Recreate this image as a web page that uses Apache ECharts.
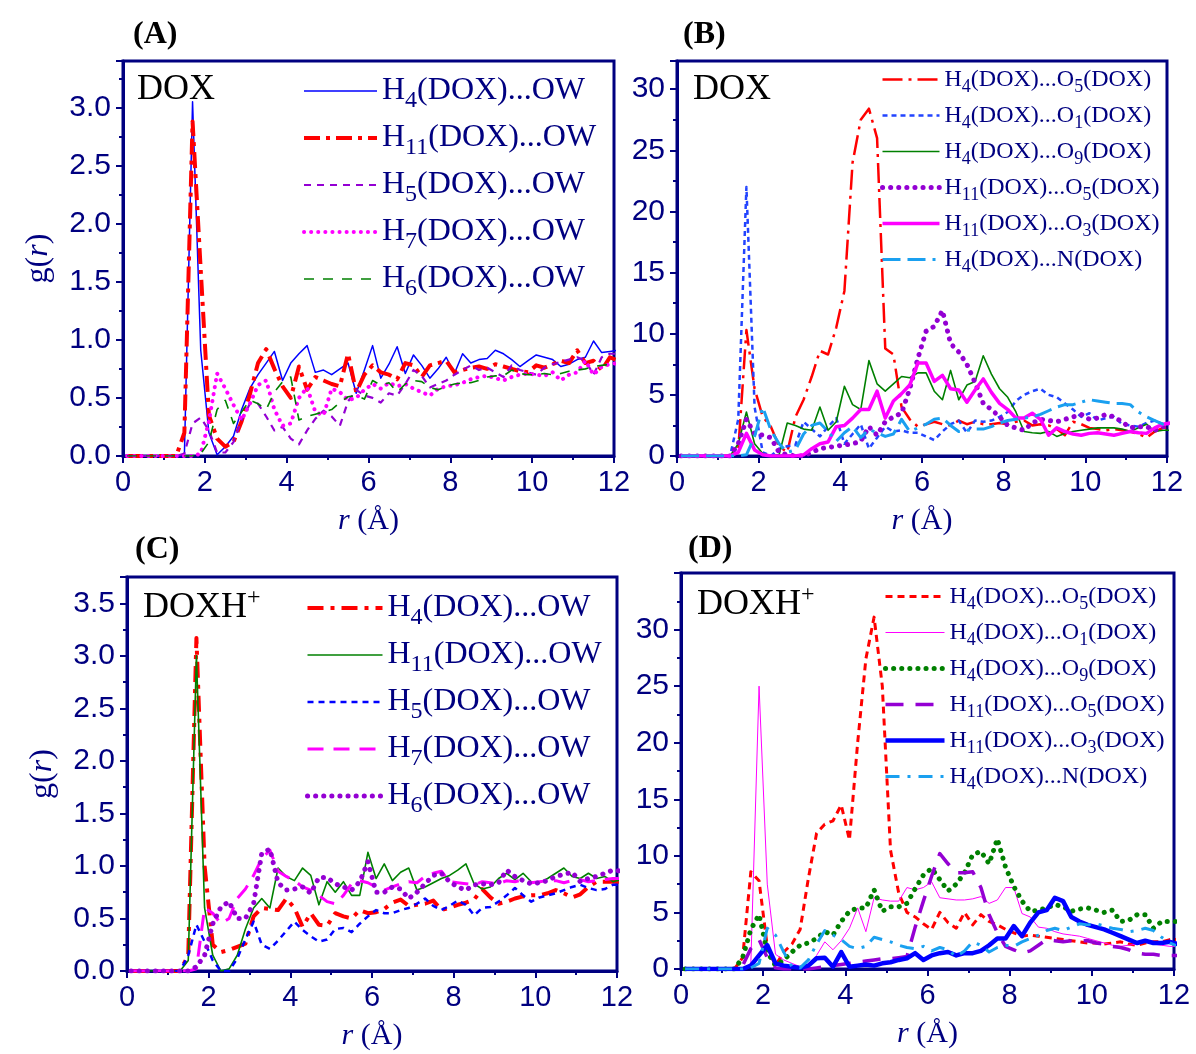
<!DOCTYPE html>
<html><head><meta charset="utf-8">
<script src="https://cdn.jsdelivr.net/npm/echarts@6/dist/echarts.min.js"></script>
<style>html,body{margin:0;padding:0;background:#fff}#c{width:1196px;height:1054px}</style>
</head><body><div id="c"></div><script>
// r grid (Å)
const r = [0.1,0.3,0.5,0.7,0.9,1.1,1.3,1.5,1.7,1.9,
 2.1,2.3,2.5,2.7,2.9,3.1,3.3,3.5,3.7,3.9,
 4.1,4.3,4.5,4.7,4.9,5.1,5.3,5.5,5.7,5.9,
 6.1,6.3,6.5,6.7,6.9,7.1,7.3,7.5,7.7,7.9,
 8.1,8.3,8.5,8.7,8.9,9.1,9.3,9.5,9.7,9.9,
 10.1,10.3,10.5,10.7,10.9,11.1,11.3,11.5,11.7,11.9,
 12.1];
const xTicks = [0,2,4,6,8,10,12];

// Panel A (DOX)
const A_H4 = [0,0,0,0,0,0,0,0,3.05,0.91,
 0.20,0.01,0.08,0.17,0.40,0.58,0.70,0.80,0.90,0.65,
 0.80,0.88,0.95,0.72,0.74,0.70,0.75,0.80,0.54,0.74,
 0.95,0.67,0.79,0.94,0.71,0.87,0.78,0.67,0.75,0.85,
 0.71,0.88,0.80,0.83,0.84,0.91,0.88,0.83,0.77,0.82,
 0.87,0.85,0.83,0.77,0.79,0.83,0.85,0.99,0.89,0.90,
 0.91];
const A_H11 = [0,0,0,0,0,0,0,0.2,2.88,1.6,
 0.35,0.15,0.08,0.12,0.30,0.53,0.80,0.92,0.75,0.60,
 0.50,0.77,0.57,0.68,0.65,0.62,0.60,0.88,0.55,0.70,
 0.78,0.72,0.70,0.66,0.80,0.78,0.68,0.78,0.80,0.82,
 0.72,0.74,0.76,0.77,0.75,0.79,0.77,0.75,0.73,0.72,
 0.78,0.76,0.79,0.82,0.80,0.91,0.80,0.82,0.74,0.85,
 0.82];
const A_H5 = [0,0,0,0,0,0,0,0.02,0.28,0.33,
 0.22,0.03,0.03,0.12,0.31,0.45,0.45,0.34,0.22,0.25,
 0.15,0.10,0.22,0.32,0.39,0.34,0.26,0.47,0.57,0.52,
 0.50,0.46,0.54,0.52,0.62,0.74,0.69,0.59,0.62,0.65,
 0.70,0.74,0.78,0.74,0.76,0.72,0.68,0.78,0.74,0.72,
 0.70,0.76,0.79,0.81,0.83,0.85,0.82,0.70,0.85,0.88,
 0.88];
const A_H7 = [0,0,0,0,0,0,0,0,0,0.02,
 0.30,0.71,0.58,0.44,0.31,0.45,0.61,0.65,0.40,0.26,
 0.28,0.50,0.59,0.38,0.35,0.58,0.55,0.48,0.50,0.57,
 0.62,0.58,0.63,0.60,0.62,0.58,0.55,0.52,0.58,0.60,
 0.61,0.63,0.66,0.68,0.69,0.67,0.65,0.68,0.70,0.71,
 0.70,0.69,0.72,0.65,0.70,0.72,0.82,0.70,0.77,0.79,
 0.80];
const A_H6 = [0,0,0,0,0,0,0,0,0,0.02,
 0.12,0.40,0.48,0.28,0.38,0.48,0.45,0.40,0.55,0.64,
 0.68,0.31,0.34,0.36,0.38,0.40,0.46,0.51,0.52,0.49,
 0.65,0.61,0.63,0.55,0.62,0.65,0.64,0.59,0.57,0.60,
 0.62,0.63,0.63,0.65,0.68,0.69,0.69,0.74,0.71,0.70,
 0.70,0.71,0.70,0.71,0.73,0.74,0.75,0.77,0.78,0.79,
 0.80];

// Panel B (DOX, intramolecular)
const B_H4O5 = [0,0,0,0,0,0,0,0.5,10.3,5.5,
 3.2,2.4,0.8,0.3,3.2,4.6,6.5,8.6,8.3,10.5,
 13.5,24.0,27.5,28.4,26.0,8.8,8.3,4.0,3.0,2.4,
 2.6,2.8,2.6,2.5,2.9,2.6,2.8,2.6,2.6,2.7,
 2.6,2.8,2.9,2.5,2.6,2.5,2.2,1.7,2.8,2.6,
 2.3,2.2,2.1,2.2,2.1,2.0,1.8,1.5,2.0,2.3,
 2.4];
const B_H4O1 = [0,0,0,0,0,0,0,3.0,22.0,4.0,
 0.3,0,0.6,0.8,0.9,2.8,2.2,1.6,2.4,3.1,
 1.0,1.8,2.6,0.6,1.5,2.4,2.0,2.1,1.9,1.9,
 1.6,1.3,2.0,2.6,2.9,1.9,2.9,2.8,2.9,3.2,
 3.6,4.5,5.0,5.3,5.5,5.0,4.8,4.3,3.8,3.2,
 3.5,2.9,3.1,3.2,2.6,2.5,2.4,2.7,2.9,2.6,
 2.6];
const B_H4O9 = [0,0,0,0,0,0,0,1.0,3.6,1.0,
 0.2,0,0.1,2.7,2.5,2.2,2.1,4.0,2.1,2.8,
 5.7,4.2,3.8,7.8,5.9,5.3,5.9,6.5,6.4,6.8,
 6.8,5.3,4.6,7.0,4.6,5.8,6.1,8.2,6.7,5.5,
 4.8,3.6,2.0,1.9,1.85,2.0,1.6,1.85,2.0,2.1,
 2.2,2.3,2.3,2.3,2.2,2.0,2.3,2.6,2.0,2.1,
 2.1];
const B_H11O5 = [0,0,0,0,0,0,0,1.0,3.0,1.8,
 1.7,1.5,0.3,0.1,0,0,0.3,0.6,0.7,0.8,
 0.9,1.0,1.2,2.4,1.7,2.8,3.2,3.5,5.5,8.0,
 10.2,10.6,11.9,9.2,8.5,7.5,6.0,4.3,3.8,3.2,
 2.5,2.3,2.1,2.7,3.0,2.9,2.8,3.0,3.2,3.4,
 3.0,3.1,3.4,3.2,2.8,2.3,2.4,2.4,2.1,2.4,
 2.5];
const B_H11O3 = [0,0,0,0,0,0,0,0.3,1.85,0.5,
 0.1,0,0,0,0,0.1,0.6,1.0,1.15,2.4,
 2.5,3.1,3.8,3.8,5.3,3.1,4.5,5.1,5.8,7.6,
 7.6,6.1,6.6,5.5,5.4,4.4,5.4,6.3,5.2,4.3,
 3.8,3.1,3.1,3.5,3.0,1.7,2.3,2.0,1.8,1.7,
 1.85,1.9,1.8,1.7,1.85,2.0,1.9,1.85,2.3,2.6,
 2.7];
const B_H4N = [0,0,0,0,0,0,0,0,0.1,1.6,
 4.0,2.1,1.0,0.3,0.5,1.8,2.5,2.7,2.0,1.2,
 1.9,2.4,1.5,2.2,1.9,1.6,1.8,3.0,2.0,2.3,
 2.6,3.0,3.1,2.5,2.0,2.1,2.2,2.2,2.4,2.7,
 2.9,3.0,3.1,3.2,3.4,3.7,4.0,4.2,4.2,4.4,
 4.6,4.5,4.4,4.3,4.3,4.2,3.6,3.2,2.9,2.6,
 2.4];

// Panel C (DOXH+)
const C_H4 = [0,0,0,0,0,0,0,0.15,3.17,1.0,
 0.25,0.18,0.2,0.23,0.26,0.52,0.6,0.59,0.58,0.69,
 0.60,0.42,0.55,0.44,0.43,0.55,0.52,0.50,0.58,0.55,
 0.56,0.59,0.65,0.68,0.62,0.63,0.64,0.67,0.58,0.60,
 0.63,0.65,0.68,0.78,0.70,0.64,0.66,0.69,0.71,0.72,
 0.72,0.74,0.77,0.74,0.70,0.73,0.80,0.85,0.85,0.85,
 0.85];
const C_H11 = [0,0,0,0,0,0,0,0.1,3.0,0.6,
 0.15,0,0.02,0.15,0.4,0.6,0.69,0.6,0.98,0.9,
 0.86,0.98,0.91,0.63,0.85,0.75,0.85,0.72,0.72,1.13,
 0.88,1.02,0.86,0.94,0.98,0.77,0.80,0.84,0.88,0.91,
 0.96,1.02,0.83,0.78,0.80,0.88,0.93,0.87,0.93,0.85,
 0.84,0.88,0.93,0.98,0.90,0.88,0.93,0.88,0.90,0.85,
 0.87];
const C_H5 = [0,0,0,0,0,0,0,0.15,0.44,0.28,
 0.1,0,0,0.12,0.3,0.47,0.25,0.21,0.29,0.38,
 0.47,0.39,0.33,0.28,0.30,0.40,0.41,0.37,0.45,0.52,
 0.58,0.55,0.55,0.58,0.60,0.64,0.69,0.62,0.58,0.62,
 0.67,0.63,0.53,0.60,0.61,0.66,0.72,0.79,0.72,0.66,
 0.70,0.72,0.74,0.77,0.80,0.82,0.79,0.77,0.78,0.82,
 0.82];
const C_H7 = [0,0,0,0,0,0,0,0,0.02,0.6,
 0.55,0.45,0.50,0.69,0.78,0.91,1.07,1.15,0.95,0.90,
 0.86,0.80,0.77,0.72,0.66,0.64,0.72,0.83,0.86,0.84,
 0.80,0.77,0.80,0.83,0.85,0.84,0.90,0.93,0.95,0.85,
 0.84,0.83,0.82,0.85,0.84,0.83,0.86,0.85,0.87,0.84,
 0.85,0.86,0.86,0.84,0.86,0.87,0.85,0.86,0.87,0.88,
 0.88];
const C_H6 = [0,0,0,0,0,0,0,0,0.04,0.15,
 0.45,0.61,0.66,0.5,0.5,0.64,1.12,1.16,0.84,0.77,
 0.78,0.80,0.74,0.89,0.89,0.83,0.80,0.77,0.85,1.04,
 0.75,0.75,0.80,0.78,0.69,0.75,0.83,0.91,0.93,0.85,
 0.80,0.77,0.82,0.83,0.82,0.84,0.96,0.90,0.86,0.83,
 0.84,0.86,0.90,0.92,0.94,0.85,0.88,0.90,0.93,0.96,
 0.95];

// Panel D (DOXH+, intramolecular)
const D_H4O5 = [0,0,0,0,0,0,0,1.0,8.6,7.8,
 2.0,0.3,1.5,2.2,3.5,8.0,12.0,12.8,13.1,14.5,
 11.4,20.0,27.4,31.1,25.0,10.5,6.7,5.0,4.6,4.0,
 3.5,5.0,4.1,3.6,5.0,3.9,4.8,4.2,3.9,3.5,
 3.2,2.9,3.0,2.9,2.8,2.7,2.6,2.5,2.4,2.3,
 2.3,2.2,2.3,2.4,2.2,2.1,2.3,2.4,2.4,2.6,
 2.6];
const D_H4O1 = [0,0,0,0,0,0,0,0,0.5,25.0,
 7.5,1.3,0.8,0.5,0.2,0.2,1.2,2.4,1.7,2.5,
 3.6,5.4,3.3,6.3,6.1,6.0,6.0,7.2,7.0,7.2,
 7.7,6.3,6.2,6.1,6.1,6.2,6.4,5.8,6.1,7.2,
 7.2,4.9,4.6,3.7,3.6,3.3,3.1,3.0,2.9,2.7,
 2.5,2.3,2.1,2.0,2.1,2.2,2.6,2.2,2.1,2.0,
 2.0];
const D_H4O9 = [0,0,0,0,0,0,0,1.0,3.5,4.8,
 1.5,0.3,0.8,1.5,2.1,2.3,2.7,3.3,3.0,4.2,
 5.1,5.4,5.4,7.0,5.1,5.5,5.5,5.8,7.1,8.3,
 8.9,7.9,6.9,7.5,8.5,10.1,10.4,9.3,11.5,9.0,
 7.3,6.0,5.1,5.2,5.4,5.7,5.5,5.1,5.3,5.4,
 5.2,5.0,5.2,4.2,4.3,4.8,4.8,3.6,4.2,4.2,
 4.2];
const D_H11O5 = [0,0,0,0,0,0,0,0.3,1.8,2.6,
 1.0,0.1,0,0,0,0,0.1,0.2,0.3,0.4,
 0.5,0.6,0.7,0.8,0.9,0.9,1.0,1.1,3.7,6.0,
 8.2,10.2,9.3,8.5,8.5,8.6,7.2,4.8,3.2,2.0,
 1.7,1.4,1.6,2.1,2.6,2.5,2.4,2.5,2.5,2.5,
 2.3,2.2,2.0,1.9,1.7,1.4,1.3,1.3,1.2,1.2,
 1.2];
const D_H11O3 = [0,0,0,0,0,0,0,0,0.3,1.2,
 2.1,0.5,0.3,0.2,0.1,0.3,0.95,1.0,0.2,1.5,
 0.2,0.3,0.4,0.3,0.5,0.6,0.8,0.95,1.4,0.8,
 1.2,1.4,1.5,1.2,1.4,1.4,1.6,2.1,2.7,2.7,
 3.8,2.9,4.1,5.0,5.2,6.3,6.0,4.6,4.2,3.9,
 3.7,3.5,3.2,2.9,2.6,2.3,2.5,2.3,2.3,2.4,
 2.2];
const D_H4N = [0,0,0,0,0,0,0,0,0.1,0.5,
 3.6,3.0,1.5,0.2,0.1,0.8,2.2,3.4,3.0,2.6,
 2.0,1.8,2.0,2.8,2.6,2.4,2.1,1.9,1.8,2.0,
 1.6,1.9,1.7,1.1,1.6,2.4,2.1,1.5,1.9,2.1,
 2.0,2.4,2.7,3.0,3.4,3.6,3.4,3.7,4.0,3.9,
 4.0,3.8,3.6,3.5,3.3,3.4,3.6,3.4,2.8,2.3,
 2.0];

const NAVY = '#000080';
const SERIF = 'Liberation Serif';
const SANS = 'Liberation Sans';

const panels = [
  { id:'A', grid:{left:123, top:61, width:491, height:395}, ymax:3.4, yint:0.5, dec:1, yname:true,
    legend:{left:302, top:69, iw:73, fs:32, sub:24, pad:20, lh:40, gap:3},
    series:[
      ['H4(DOX)...OW', A_H4, {color:'#0000ff', width:1.5, type:'solid'}],
      ['H11(DOX)...OW', A_H11, {color:'#ff0000', width:4, type:[16,6,4,6]}],
      ['H5(DOX)...OW', A_H5, {color:'#9400d3', width:2.2, type:[7,6]}],
      ['H7(DOX)...OW', A_H7, {color:'#ff00ff', width:4, type:[0.1,7], cap:'round'}],
      ['H6(DOX)...OW', A_H6, {color:'#008000', width:1.6, type:[10,9]}]
    ]},
  { id:'B', grid:{left:677, top:61, width:490, height:395}, ymax:32.3, yint:5, dec:0, yname:false,
    legend:{left:880, top:63, iw:57, fs:24, sub:18, pad:15, lh:30, gap:3},
    series:[
      ['H4(DOX)...O5(DOX)', B_H4O5, {color:'#ff0000', width:2.5, type:[20,6,3,6]}],
      ['H4(DOX)...O1(DOX)', B_H4O1, {color:'#2244ff', width:2.5, type:[5,4]}],
      ['H4(DOX)...O9(DOX)', B_H4O9, {color:'#008000', width:1.6, type:'solid'}],
      ['H11(DOX)...O5(DOX)', B_H11O5, {color:'#9400d3', width:5, type:[0.1,8], cap:'round'}],
      ['H11(DOX)...O3(DOX)', B_H11O3, {color:'#ff00ff', width:3.5, type:'solid'}],
      ['H4(DOX)...N(DOX)', B_H4N, {color:'#1aa0f0', width:3, type:[18,7,18,7,3,7]}]
    ]},
  { id:'C', grid:{left:127, top:577, width:490, height:394}, ymax:3.75, yint:0.5, dec:1, yname:true,
    legend:{left:305, top:586, iw:75, fs:32, sub:24, pad:20, lh:40, gap:3},
    series:[
      ['H4(DOX)...OW', C_H4, {color:'#ff0000', width:4, type:[16,7,4,7]}],
      ['H11(DOX)...OW', C_H11, {color:'#008000', width:1.6, type:'solid'}],
      ['H5(DOX)...OW', C_H5, {color:'#0000ff', width:2.5, type:[6,5]}],
      ['H7(DOX)...OW', C_H7, {color:'#ff00ff', width:3, type:[16,10]}],
      ['H6(DOX)...OW', C_H6, {color:'#9400d3', width:5, type:[0.1,8], cap:'round'}]
    ]},
  { id:'D', grid:{left:681, top:573, width:493, height:396}, ymax:35, yint:5, dec:0, yname:false,
    legend:{left:883, top:580, iw:59, fs:24, sub:18, pad:15, lh:30, gap:3},
    series:[
      ['H4(DOX)...O5(DOX)', D_H4O5, {color:'#ff0000', width:3, type:[7,5]}],
      ['H4(DOX)...O1(DOX)', D_H4O1, {color:'#ff00ff', width:1, type:'solid'}],
      ['H4(DOX)...O9(DOX)', D_H4O9, {color:'#008000', width:5, type:[0.1,8], cap:'round'}],
      ['H11(DOX)...O5(DOX)', D_H11O5, {color:'#9400d3', width:3.5, type:[18,12]}],
      ['H11(DOX)...O3(DOX)', D_H11O3, {color:'#0000ff', width:4.5, type:'solid'}],
      ['H4(DOX)...N(DOX)', D_H4N, {color:'#1aa0f0', width:3, type:[14,8,3,8]}]
    ]}
];

const grids = [], xAxes = [], yAxes = [], series = [], legends = [];
const tickStyle = {color:NAVY, width:2};
panels.forEach((p, gi) => {
  grids.push(Object.assign({show:true, borderColor:NAVY, borderWidth:3, backgroundColor:'transparent'}, p.grid));
  xAxes.push({gridIndex:gi, type:'value', min:xTicks[0], max:xTicks[xTicks.length-1], interval:xTicks[1]-xTicks[0],
    axisLine:{show:true, lineStyle:{color:NAVY, width:3}},
    axisTick:{show:true, length:7, lineStyle:tickStyle},
    minorTick:{show:true, splitNumber:2, length:4, lineStyle:tickStyle},
    splitLine:{show:false},
    axisLabel:{color:NAVY, fontFamily:SANS, fontSize:29, margin:12},
    name:'{i|r} (Å)', nameLocation:'middle', nameGap:50,
    nameTextStyle:{color:NAVY, fontFamily:SERIF, fontSize:30,
      rich:{i:{fontStyle:'italic', fontFamily:SERIF, fontSize:30, color:NAVY}}}
  });
  const y = {gridIndex:gi, type:'value', min:0, max:p.ymax, interval:p.yint,
    axisLine:{show:true, lineStyle:{color:NAVY, width:3}},
    axisTick:{show:true, length:7, lineStyle:tickStyle},
    minorTick:{show:true, splitNumber:2, length:4, lineStyle:tickStyle},
    splitLine:{show:false},
    axisLabel:{color:NAVY, fontFamily:SANS, fontSize:30, margin:12, showMaxLabel:false,
      formatter: v => v.toFixed(p.dec)}
  };
  if (p.yname) {
    Object.assign(y, {name:'g({i|r})', nameLocation:'middle', nameGap:68,
      nameTextStyle:{color:NAVY, fontFamily:SERIF, fontSize:32,
        rich:{i:{fontStyle:'italic', fontFamily:SERIF, fontSize:32, color:NAVY}}}});
  }
  yAxes.push(y);
  const names = [];
  p.series.forEach(([nm, vals, ls]) => {
    const full = p.id + ':' + nm;
    names.push(full);
    series.push({type:'line', name:full, xAxisIndex:gi, yAxisIndex:gi, symbol:'none',
      data: r.map((x, i) => [x, vals[i]]), clip:true, animation:false,
      lineStyle:Object.assign({join:'round'}, ls), itemStyle:{color:ls.color}});
  });
  const L = p.legend;
  legends.push({data:names, left:L.left, top:L.top, orient:'vertical', padding:0,
    itemGap:L.gap, itemWidth:L.iw, itemHeight:14, selectedMode:false,
    itemStyle:{opacity:0},
    lineStyle:{width:'inherit', type:'inherit', cap:'inherit'},
    formatter: n => n.slice(2).replace(/([HO])(\d+)/g, '$1{s|$2}'),
    textStyle:{fontFamily:SERIF, fontSize:L.fs, color:NAVY, lineHeight:L.lh,
      rich:{s:{fontFamily:SERIF, fontSize:L.sub, color:NAVY, lineHeight:L.sub, padding:[L.pad,0,0,0]}}}
  });
});

const titleStyle = {fontFamily:SERIF, fontWeight:'bold', fontSize:32, color:'#000'};
const tagStyle = {fontFamily:SERIF, fontWeight:'normal', fontSize:36, color:'#000',
  rich:{a:{fontFamily:SERIF, fontWeight:'normal', fontSize:36, color:'#000'},
        p:{fontFamily:SERIF, fontWeight:'normal', fontSize:24, color:'#000', padding:[0,0,20,0]}}};
const titles = [
  {text:'(A)', left:133, top:19, padding:0, textStyle:titleStyle},
  {text:'(B)', left:683, top:19, padding:0, textStyle:titleStyle},
  {text:'(C)', left:135, top:534, padding:0, textStyle:titleStyle},
  {text:'(D)', left:688, top:533, padding:0, textStyle:titleStyle},
  {text:'DOX', left:137, top:72, padding:0, textStyle:tagStyle},
  {text:'DOX', left:693, top:72, padding:0, textStyle:tagStyle},
  {text:'{a|DOXH}{p|+}', left:143, top:586, padding:0, textStyle:tagStyle},
  {text:'{a|DOXH}{p|+}', left:697, top:583, padding:0, textStyle:tagStyle}
];

const chart = echarts.init(document.getElementById('c'), null, {renderer:'canvas'});
chart.setOption({animation:false, backgroundColor:'#fff', title:titles, grid:grids, xAxis:xAxes, yAxis:yAxes, legend:legends, series:series});
</script></body></html>
